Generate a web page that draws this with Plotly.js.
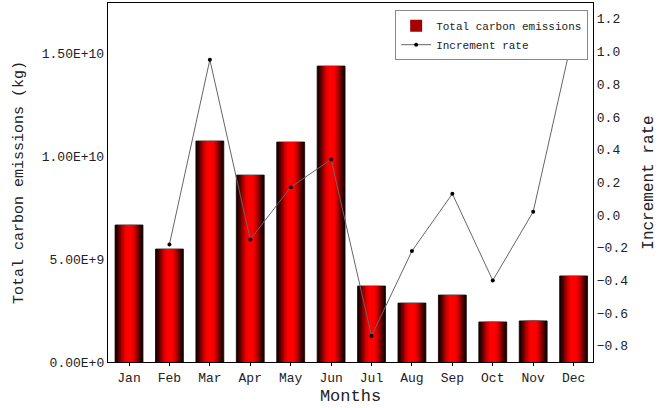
<!DOCTYPE html>
<html>
<head>
<meta charset="utf-8">
<script src="https://cdn.plot.ly/plotly-3.0.1.min.js"></script>
<style>html,body{margin:0;padding:0;background:#fff;}#chart{width:658px;height:408px;}</style>
</head>
<body>
<div id="chart"></div>
<script>
const months = ['Jan','Feb','Mar','Apr','May','Jun','Jul','Aug','Sep','Oct','Nov','Dec'];
const emissions = [6.67e9, 5.50e9, 1.076e10, 9.10e9, 1.071e10, 1.441e10, 3.70e9, 2.87e9, 3.26e9, 1.95e9, 2.00e9, 4.19e9];
const incrementRate = [null, -0.18, 0.95, -0.15, 0.17, 0.34, -0.74, -0.22, 0.13, -0.40, 0.02, 1.12];
const leftTickVals = [0, 5e9, 1e10, 1.5e10];
const leftTickText = ['0.00E+0', '5.00E+9', '1.00E+10', '1.50E+10'];
const rightTickVals = [-0.8, -0.6, -0.4, -0.2, 0.0, 0.2, 0.4, 0.6, 0.8, 1.0, 1.2];

const FONT = 'Liberation Mono, Courier New, monospace';
const TXT = '#222';

// gradient layers (outer dark -> inner bright red)
const layerColors = ['#140000','#340000','#580000','#7e0000','#a40000','#c80000','#e40000','#f60000','#ff0000'];
const fullWidth = 0.69;
const traces = [];
layerColors.forEach((c, i) => {
  const w = fullWidth * (1 - i / (layerColors.length + 0.6));
  traces.push({
    type: 'bar',
    x: months,
    y: emissions,
    width: w,
    name: 'Total carbon emissions',
    marker: { color: c, line: { color: i === 0 ? '#100000' : c, width: i === 0 ? 0.8 : 0 } },
    showlegend: i === 4,
    hoverinfo: 'skip',
    yaxis: 'y'
  });
});

traces.push({
  type: 'scatter',
  mode: 'lines+markers',
  x: months,
  y: incrementRate,
  name: 'Increment rate',
  yaxis: 'y2',
  line: { color: '#666', width: 1 },
  marker: { color: '#000', size: 4 },
  connectgaps: false
});

const layout = {
  width: 658,
  height: 408,
  margin: { l: 108, r: 65, t: 3, b: 46 },
  paper_bgcolor: '#fff',
  plot_bgcolor: '#fff',
  barmode: 'overlay',
  font: { family: FONT, color: TXT, size: 13 },
  xaxis: {
    type: 'category',
    range: [-0.52, 11.48],
    showline: true, linecolor: '#000', linewidth: 1.2, mirror: true,
    ticks: 'outside', ticklen: 3, tickcolor: '#000', tickwidth: 1,
    showgrid: false, zeroline: false,
    tickfont: { family: FONT, size: 13, color: TXT },
    title: { text: 'Months', font: { family: FONT, size: 17, color: TXT }, standoff: 4 }
  },
  yaxis: {
    range: [0, 1.748e10],
    tickvals: leftTickVals,
    ticktext: leftTickText,
    showline: true, linecolor: '#000', linewidth: 1.2,
    ticks: '', showgrid: false, zeroline: false,
    tickfont: { family: FONT, size: 13, color: TXT },
    title: { text: 'Total carbon emissions (kg)', font: { family: FONT, size: 15, color: TXT }, standoff: 14 }
  },
  yaxis2: {
    overlaying: 'y',
    side: 'right',
    range: [-0.899, 1.297],
    tickvals: rightTickVals,
    tickformat: '.1f',
    showline: true, linecolor: '#000', linewidth: 1.2,
    ticks: '', showgrid: false, zeroline: false,
    tickfont: { family: FONT, size: 13, color: TXT },
    title: { text: 'Increment rate', font: { family: FONT, size: 16, color: TXT }, standoff: 14 }
  },
  legend: {
    x: 0.99, xanchor: 'right',
    y: 0.98, yanchor: 'top',
    bgcolor: '#fff',
    bordercolor: '#888',
    borderwidth: 1,
    font: { family: FONT, size: 11, color: TXT },
    tracegroupgap: 0,
    itemwidth: 30
  },
  showlegend: true
};

Plotly.newPlot('chart', traces, layout, { displayModeBar: false, staticPlot: true });
</script>
</body>
</html>
